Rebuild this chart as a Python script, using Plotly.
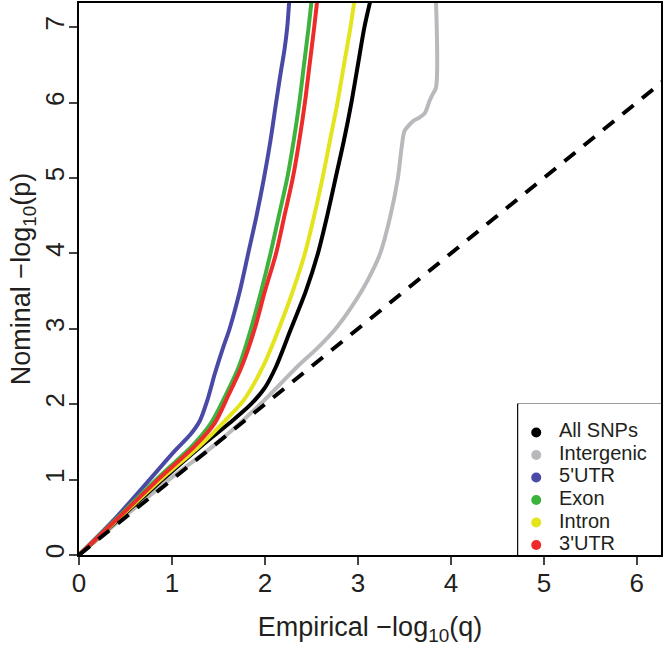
import plotly.graph_objects as go

# ---- data ----
series_names = ["All SNPs", "Intergenic", "5'UTR", "Exon", "Intron", "3'UTR"]
series_colors = ["#000000", "#b9b9bd", "#4a4aa6", "#3db33d", "#e4e41c", "#ee2b2b"]

all_x = [0, 0.45, 0.9, 1.32, 1.62, 1.85, 2.0, 2.12, 2.28, 2.44, 2.57, 2.67, 2.76, 2.85, 2.93, 3.0, 3.07, 3.13]
all_y = [0, 0.5, 1.0, 1.45, 1.75, 2.0, 2.22, 2.5, 3.0, 3.5, 4.0, 4.5, 5.0, 5.5, 6.0, 6.5, 7.0, 7.33]

inter_x = [0, 0.48, 0.97, 1.5, 1.95, 2.35, 2.57, 2.76, 2.91, 3.04, 3.15, 3.24, 3.35, 3.43, 3.47, 3.5, 3.55, 3.6, 3.66, 3.72, 3.77, 3.8, 3.84, 3.84]
inter_y = [0, 0.5, 1.0, 1.5, 2.0, 2.5, 2.75, 3.0, 3.25, 3.5, 3.75, 4.0, 4.5, 5.0, 5.4, 5.62, 5.7, 5.76, 5.8, 5.86, 6.02, 6.1, 6.2, 7.33]

utr5_x = [0, 0.4, 0.76, 1.03, 1.2, 1.3, 1.38, 1.46, 1.55, 1.62, 1.73, 1.82, 1.91, 1.99, 2.06, 2.12, 2.17, 2.21, 2.24, 2.26]
utr5_y = [0, 0.5, 1.0, 1.38, 1.6, 1.78, 2.05, 2.4, 2.75, 3.0, 3.5, 4.0, 4.5, 5.0, 5.5, 6.0, 6.4, 6.7, 7.0, 7.33]

exon_x = [0, 0.42, 0.83, 1.22, 1.42, 1.57, 1.72, 1.85, 1.96, 2.06, 2.15, 2.24, 2.31, 2.37, 2.42, 2.47, 2.50]
exon_y = [0, 0.5, 1.0, 1.45, 1.75, 2.1, 2.5, 3.0, 3.5, 4.0, 4.5, 5.0, 5.5, 6.0, 6.5, 7.0, 7.33]

intron_x = [0, 0.44, 0.88, 1.3, 1.57, 1.77, 1.98, 2.15, 2.3, 2.43, 2.53, 2.62, 2.70, 2.78, 2.85, 2.92, 2.96]
intron_y = [0, 0.5, 1.0, 1.45, 1.78, 2.05, 2.5, 3.0, 3.5, 4.0, 4.5, 5.0, 5.5, 6.0, 6.5, 7.0, 7.33]

utr3_x = [0, 0.43, 0.85, 1.25, 1.46, 1.6, 1.75, 1.89, 2.0, 2.12, 2.21, 2.30, 2.37, 2.43, 2.48, 2.53, 2.56]
utr3_y = [0, 0.5, 1.0, 1.45, 1.75, 2.1, 2.5, 3.0, 3.5, 4.0, 4.5, 5.0, 5.5, 6.0, 6.5, 7.0, 7.33]

diag = [0, 6.3]

x_ticks = [0, 1, 2, 3, 4, 5, 6]
y_ticks = [0, 1, 2, 3, 4, 5, 6, 7]
x_range = [0, 6.26]
y_range = [0, 7.32]

FONT = "Liberation Sans, Arial, sans-serif"
TXT = "#231f20"

curves = {
    "All SNPs": (all_x, all_y),
    "Intergenic": (inter_x, inter_y),
    "5'UTR": (utr5_x, utr5_y),
    "Exon": (exon_x, exon_y),
    "Intron": (intron_x, intron_y),
    "3'UTR": (utr3_x, utr3_y),
}
color_of = dict(zip(series_names, series_colors))

fig = go.Figure()
draw_order = ["Intergenic", "All SNPs", "Intron", "5'UTR", "Exon", "3'UTR"]
for name in draw_order:
    xs, ys = curves[name]
    fig.add_trace(go.Scatter(x=xs, y=ys, mode="lines", showlegend=False, name=name,
                             line=dict(color=color_of[name], width=4, shape="spline", smoothing=0.8),
                             hoverinfo="skip"))

fig.add_trace(go.Scatter(x=diag, y=diag, mode="lines", showlegend=False,
                         line=dict(color="black", width=4, dash="14px,11px"), hoverinfo="skip"))

# legend frame (clipped by the plot area on the right, as in the reference)
fig.add_shape(type="rect", xref="x", yref="y", x0=4.72, x1=7.0, y0=-0.1, y1=2.0,
              line=dict(color="black", width=1.5), fillcolor="white", layer="below")

# legend drawn on its own small axes: one row per series
legend_rows = list(range(len(series_names)))
fig.add_trace(go.Scatter(x=[18] * len(series_names), y=legend_rows, mode="markers",
                         marker=dict(color=series_colors, size=10),
                         xaxis="x2", yaxis="y2", showlegend=False, hoverinfo="skip"))
fig.add_trace(go.Scatter(x=[41] * len(series_names), y=legend_rows, mode="text",
                         text=series_names, textposition="middle right",
                         textfont=dict(size=20, family=FONT, color=TXT),
                         xaxis="x2", yaxis="y2", showlegend=False, hoverinfo="skip"))

fig.update_layout(
    width=664, height=661,
    margin=dict(l=79, r=1, t=1, b=106),
    paper_bgcolor="white", plot_bgcolor="white",
    font=dict(family=FONT, color=TXT),
    showlegend=False,
    xaxis=dict(range=x_range, tickvals=x_ticks, ticks="outside", ticklen=8, tickwidth=1.5,
               showline=True, linecolor="black", linewidth=2, mirror=True,
               showgrid=False, zeroline=False, ticklabelstandoff=-4,
               tickfont=dict(size=26, family=FONT, color=TXT),
               title=dict(text="Empirical −log<sub>10</sub>(q)", font=dict(size=27, family=FONT, color=TXT),
                          standoff=20)),
    yaxis=dict(range=y_range, tickvals=y_ticks, ticks="outside", ticklen=8, tickwidth=1.5,
               tickangle=-90, ticklabelstandoff=-5,
               showline=True, linecolor="black", linewidth=2, mirror=True,
               showgrid=False, zeroline=False,
               tickfont=dict(size=26, family=FONT, color=TXT),
               title=dict(text="Nominal −log<sub>10</sub>(p)", font=dict(size=27, family=FONT, color=TXT),
                          standoff=0)),
    xaxis2=dict(domain=[0.755, 1.0], range=[0, 144], anchor="y2", visible=False, fixedrange=True),
    yaxis2=dict(domain=[0.0, 0.274], range=[5.443, -1.274], anchor="x2", visible=False, fixedrange=True),
)

fig.write_html("out.html", config={"displayModeBar": False},
               post_script="document.body.style.margin='0';")
